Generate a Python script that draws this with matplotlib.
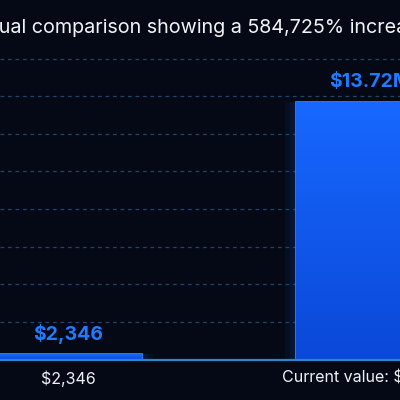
import matplotlib.pyplot as plt
import numpy as np
from matplotlib.colors import LinearSegmentedColormap

# data
categories = ['Original', 'Current']
values = [2346, 13720000]
tick_labels = ['$2,346', 'Current value: $13.72M']
pct_increase = (values[1] - values[0]) / values[0] * 100
title = 'Visual comparison showing a {:,.0f}% increase'.format(pct_increase)

BG = '#050915'
BLUE = '#1868ff'
BLUE_DARK = '#0a48d8'
EDGE = '#3a8cff'
LABEL_BLUE = '#1f7bff'

plt.rcParams['font.family'] = ['Inter', 'DejaVu Sans']


def fmt(v):
    if v >= 1e6:
        return '${:.2f}M'.format(v / 1e6)
    return '${:,.0f}'.format(v)


fig = plt.figure(figsize=(4, 4), dpi=100, facecolor=BG)
ax = fig.add_axes([0, 0.101, 1, 0.799], facecolor=BG)

x = np.arange(len(values))
ymax = 16.99e6
# tiny values still get a visible sliver
shown = [max(v, max(values) * 0.022) for v in values]

# glow behind bars
for w, a in [(0.56, 0.06), (0.53, 0.08)]:
    ax.bar(x, shown, width=w, color=BLUE, alpha=a, zorder=2, linewidth=0)

bars = ax.bar(x, shown, width=0.49, color=BLUE, edgecolor=EDGE, linewidth=1.2, zorder=3)

# vertical gradient inside each bar
grad = np.linspace(1, 0, 256).reshape(-1, 1)
cmap = LinearSegmentedColormap.from_list('b', [BLUE_DARK, BLUE])
for b in bars:
    x0, y0 = b.get_x(), b.get_y()
    im = ax.imshow(grad, cmap=cmap, aspect='auto', zorder=3.5,
                   extent=[x0, x0 + b.get_width(), y0, y0 + b.get_height()])
    im.set_clip_path(b)

for i, (v, h) in enumerate(zip(values, shown)):
    ax.annotate(fmt(v), (x[i], h), xytext=(0, 7.5), textcoords='offset points',
                ha='center', va='bottom', color=LABEL_BLUE, fontsize=14,
                fontweight='bold', zorder=5)

ax.set_xlim(-68 / 302, 332 / 302)
ax.set_ylim(0, ymax)
ax.set_yticks(np.arange(2e6, 17e6, 2e6))
ax.yaxis.grid(True, color='#22436a', linestyle=(0, (3, 3)), linewidth=0.9, zorder=1)
ax.tick_params(axis='y', left=False, labelleft=False)
ax.set_xticks(x, tick_labels)
ax.tick_params(axis='x', length=0, pad=8, labelsize=11.5, labelcolor='#eef1f6')
for s in ['top', 'right', 'left']:
    ax.spines[s].set_visible(False)
ax.spines['bottom'].set_color('#2a86c8')
ax.spines['bottom'].set_linewidth(1.6)
ax.spines['bottom'].set_zorder(4)

# title: place so that the chart crop starts just after "Vis"
fig.canvas.draw()
r = fig.canvas.get_renderer()
probe = fig.text(0, 0, 'Vis', fontsize=14.2)
w_px = probe.get_window_extent(r).width
probe.remove()
fig.text(-(w_px + 1) / 400, 1 - 33 / 400, title, ha='left', va='baseline',
         color='#f2f4f8', fontsize=14.2)

plt.savefig('out.png', dpi=100, facecolor=BG)
